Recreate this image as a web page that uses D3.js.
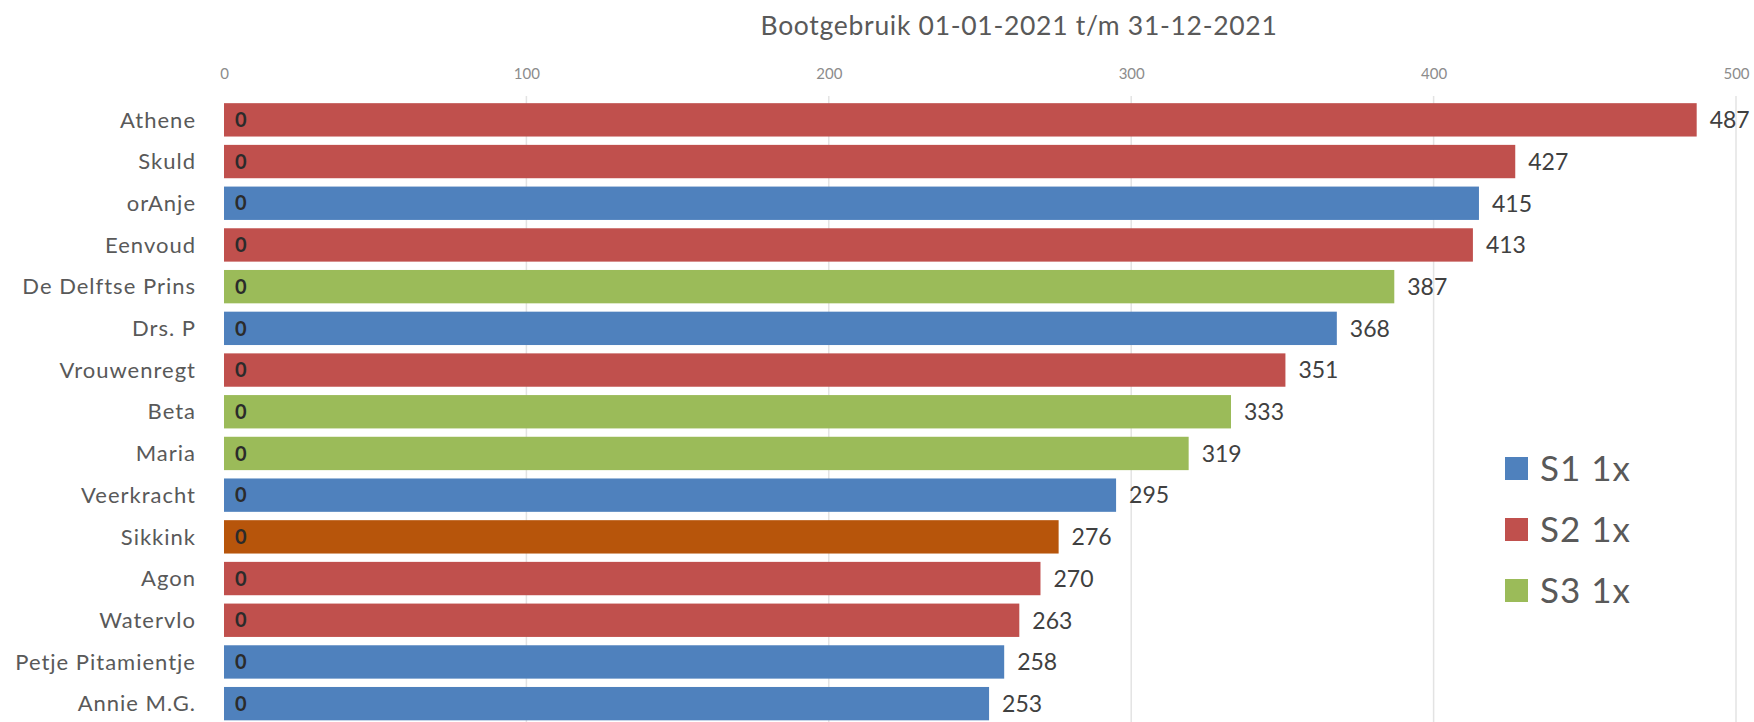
<!DOCTYPE html>
<html>
<head>
<meta charset="utf-8">
<script src="https://cdn.jsdelivr.net/npm/d3@7"></script>
<style>
  body { margin: 0; background: #fff; }
  svg { display: block; font-family: Lato, "Liberation Sans", sans-serif; }
</style>
</head>
<body>
<svg width="1754" height="722"></svg>
<script>
// boats, sorted by usage
const boats = ["Athene", "Skuld", "orAnje", "Eenvoud", "De Delftse Prins", "Drs. P",
  "Vrouwenregt", "Beta", "Maria", "Veerkracht", "Sikkink", "Agon", "Watervlo",
  "Petje Pitamientje", "Annie M.G."]
const usage = [487, 427, 415, 413, 387, 368, 351, 333, 319, 295, 276, 270, 263, 258, 253]
const zeroSeries = [0, 0, 0, 0, 0, 0, 0, 0, 0, 0, 0, 0, 0, 0, 0]
const boatType = ["S2", "S2", "S1", "S2", "S3", "S1", "S2", "S3", "S3", "S1", "S4", "S2", "S2", "S1", "S1"]
const legendKeys = ["S1", "S2", "S3"]
const legendNames = ["S1 1x", "S2 1x", "S3 1x"]
const xTicks = [0, 100, 200, 300, 400, 500]

const typeColor = d3.scaleOrdinal()
    .domain(["S1", "S2", "S3", "S4"])
    .range(["#4f81bd", "#c0504d", "#9bbb59", "#b7550b"])

let svg = d3.select("svg")

let x = d3.scaleLinear().domain([0, 500]).range([224, 1736])
let y = d3.scaleBand().domain(boats).range([99, 724.5])
    .paddingInner(0.2).paddingOuter(0.1)

let rows = boats.map((name, i) => ({name, value: usage[i], zero: zeroSeries[i], type: boatType[i]}))

// title
svg.append("text")
    .attr("x", 1019).attr("y", 35)
    .attr("text-anchor", "middle")
    .attr("font-size", 26.5)
    .attr("letter-spacing", 0.7)
    .attr("fill", "#595959")
    .text("Bootgebruik 01-01-2021 t/m 31-12-2021")

// gridlines
svg.append("g")
    .selectAll("line")
    .data(xTicks.slice(1))
    .enter().append("line")
    .attr("x1", d => x(d)).attr("x2", d => x(d))
    .attr("y1", 96).attr("y2", 722)
    .attr("stroke", "#e3e3e3")
    .attr("stroke-width", 1.5)

// top axis
let axis = svg.append("g")
    .attr("transform", "translate(0,79)")
    .call(d3.axisTop(x).tickValues(xTicks).tickSize(0).tickPadding(0))
axis.select(".domain").remove()
axis.selectAll("text")
    .attr("font-size", 15)
    .attr("font-family", "Lato, sans-serif")
    .attr("fill", "#8c8c8c")

// bars
svg.append("g")
    .selectAll("rect")
    .data(rows)
    .enter().append("rect")
    .attr("x", x(0))
    .attr("y", d => y(d.name))
    .attr("width", d => x(d.value) - x(0))
    .attr("height", y.bandwidth())
    .attr("fill", d => typeColor(d.type))

// category labels
svg.append("g")
    .selectAll("text")
    .data(rows)
    .enter().append("text")
    .attr("x", 196)
    .attr("y", d => y(d.name) + y.bandwidth() / 2)
    .attr("dy", "0.35em")
    .attr("text-anchor", "end")
    .attr("font-size", 22)
    .attr("letter-spacing", 1)
    .attr("fill", "#595959")
    .text(d => d.name)

// zero labels inside bars
svg.append("g")
    .selectAll("text")
    .data(rows)
    .enter().append("text")
    .attr("x", d => x(d.zero) + 11)
    .attr("y", d => y(d.name) + y.bandwidth() / 2)
    .attr("dy", "0.36em")
    .attr("font-size", 20)
    .attr("font-weight", "bold")
    .attr("fill", "#2b2b2b")
    .text(d => d.zero)

// value labels
svg.append("g")
    .selectAll("text")
    .data(rows)
    .enter().append("text")
    .attr("x", d => x(d.value) + 13)
    .attr("y", d => y(d.name) + y.bandwidth() / 2)
    .attr("dy", "0.36em")
    .attr("font-size", 23)
    .attr("fill", "#404040")
    .text(d => d.value)

// legend
let legend = svg.append("g")
    .selectAll("g")
    .data(legendKeys)
    .enter().append("g")
    .attr("transform", (d, i) => `translate(1505,${457 + i * 61})`)
legend.append("rect")
    .attr("width", 23).attr("height", 23)
    .attr("fill", d => typeColor(d))
legend.append("text")
    .attr("x", 35).attr("y", 11.5)
    .attr("dy", "0.36em")
    .attr("font-size", 35)
    .attr("letter-spacing", 1)
    .attr("fill", "#595959")
    .text((d, i) => legendNames[i])
</script>
</body>
</html>
